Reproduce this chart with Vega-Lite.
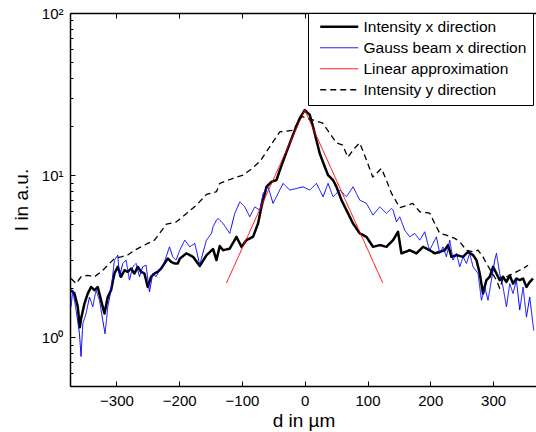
{
  "$schema": "https://vega.github.io/schema/vega-lite/v6.json",
  "width": 467,
  "height": 373,
  "autosize": {"type": "none"},
  "padding": {"left": 70, "top": 13, "right": 0, "bottom": 46},
  "background": "white",
  "config": {
    "view": {"stroke": null},
    "font": "Liberation Sans",
    "axis": {
      "grid": false,
      "domainColor": "black",
      "domainWidth": 1.5,
      "tickColor": "black",
      "tickWidth": 1,
      "labelColor": "black",
      "titleColor": "black",
      "labelFont": "Liberation Sans",
      "titleFont": "Liberation Sans",
      "labelFontSize": 15,
      "titleFontSize": 19,
      "titleFontWeight": "normal",
      "labelFlush": false,
      "labelOverlap": false
    }
  },
  "data": {
    "values": [
      {"s": "Intensity x direction", "d": -372.3, "I": 1.95},
      {"s": "Intensity x direction", "d": -366.9, "I": 1.86},
      {"s": "Intensity x direction", "d": -361.6, "I": 1.54},
      {"s": "Intensity x direction", "d": -358.4, "I": 1.15},
      {"s": "Intensity x direction", "d": -356.4, "I": 1.3},
      {"s": "Intensity x direction", "d": -351, "I": 1.61},
      {"s": "Intensity x direction", "d": -345.7, "I": 1.86},
      {"s": "Intensity x direction", "d": -340.4, "I": 2.04},
      {"s": "Intensity x direction", "d": -335, "I": 1.95},
      {"s": "Intensity x direction", "d": -329.8, "I": 2.04},
      {"s": "Intensity x direction", "d": -324.5, "I": 1.69},
      {"s": "Intensity x direction", "d": -319.1, "I": 1.4},
      {"s": "Intensity x direction", "d": -313.8, "I": 1.77},
      {"s": "Intensity x direction", "d": -308.6, "I": 1.95},
      {"s": "Intensity x direction", "d": -303.2, "I": 2.47},
      {"s": "Intensity x direction", "d": -297.9, "I": 2.72},
      {"s": "Intensity x direction", "d": -292.6, "I": 2.36},
      {"s": "Intensity x direction", "d": -287.2, "I": 2.59},
      {"s": "Intensity x direction", "d": -282, "I": 2.53},
      {"s": "Intensity x direction", "d": -276.7, "I": 2.65},
      {"s": "Intensity x direction", "d": -271.3, "I": 2.47},
      {"s": "Intensity x direction", "d": -266, "I": 2.72},
      {"s": "Intensity x direction", "d": -260.8, "I": 2.53},
      {"s": "Intensity x direction", "d": -255.4, "I": 2.47},
      {"s": "Intensity x direction", "d": -250.1, "I": 2.04},
      {"s": "Intensity x direction", "d": -244.8, "I": 2.36},
      {"s": "Intensity x direction", "d": -239.4, "I": 2.47},
      {"s": "Intensity x direction", "d": -234.2, "I": 2.53},
      {"s": "Intensity x direction", "d": -228.9, "I": 2.65},
      {"s": "Intensity x direction", "d": -223.5, "I": 2.85},
      {"s": "Intensity x direction", "d": -218.2, "I": 3.06},
      {"s": "Intensity x direction", "d": -213, "I": 2.92},
      {"s": "Intensity x direction", "d": -207.6, "I": 2.85},
      {"s": "Intensity x direction", "d": -202.3, "I": 2.85},
      {"s": "Intensity x direction", "d": -199.1, "I": 3.05},
      {"s": "Intensity x direction", "d": -188.5, "I": 3.29},
      {"s": "Intensity x direction", "d": -177.9, "I": 3.13},
      {"s": "Intensity x direction", "d": -167.3, "I": 2.75},
      {"s": "Intensity x direction", "d": -156.6, "I": 3.2},
      {"s": "Intensity x direction", "d": -146.1, "I": 3.5},
      {"s": "Intensity x direction", "d": -140.7, "I": 2.99},
      {"s": "Intensity x direction", "d": -135.4, "I": 3.65},
      {"s": "Intensity x direction", "d": -130.1, "I": 3.44},
      {"s": "Intensity x direction", "d": -119.5, "I": 3.52},
      {"s": "Intensity x direction", "d": -108.8, "I": 4.16},
      {"s": "Intensity x direction", "d": -100.8, "I": 3.61},
      {"s": "Intensity x direction", "d": -92.9, "I": 3.97},
      {"s": "Intensity x direction", "d": -82.4, "I": 4.16},
      {"s": "Intensity x direction", "d": -74.4, "I": 5.03},
      {"s": "Intensity x direction", "d": -69, "I": 6.37},
      {"s": "Intensity x direction", "d": -61, "I": 8.47},
      {"s": "Intensity x direction", "d": -53, "I": 9.09},
      {"s": "Intensity x direction", "d": -45.1, "I": 9.31},
      {"s": "Intensity x direction", "d": -39.8, "I": 10.7},
      {"s": "Intensity x direction", "d": -31.9, "I": 13.0},
      {"s": "Intensity x direction", "d": -23.9, "I": 15.7},
      {"s": "Intensity x direction", "d": -15.9, "I": 18.9},
      {"s": "Intensity x direction", "d": -8, "I": 22.4},
      {"s": "Intensity x direction", "d": 0, "I": 25.2},
      {"s": "Intensity x direction", "d": 8, "I": 23.5},
      {"s": "Intensity x direction", "d": 13.2, "I": 19.9},
      {"s": "Intensity x direction", "d": 18.6, "I": 16.4},
      {"s": "Intensity x direction", "d": 23.9, "I": 13.6},
      {"s": "Intensity x direction", "d": 31.9, "I": 11.25},
      {"s": "Intensity x direction", "d": 37.1, "I": 10.0},
      {"s": "Intensity x direction", "d": 45.1, "I": 9.31},
      {"s": "Intensity x direction", "d": 50.5, "I": 8.47},
      {"s": "Intensity x direction", "d": 58.5, "I": 7.01},
      {"s": "Intensity x direction", "d": 66.4, "I": 6.08},
      {"s": "Intensity x direction", "d": 76.9, "I": 5.03},
      {"s": "Intensity x direction", "d": 87.6, "I": 4.37},
      {"s": "Intensity x direction", "d": 98.3, "I": 4.16},
      {"s": "Intensity x direction", "d": 108.8, "I": 3.61},
      {"s": "Intensity x direction", "d": 119.5, "I": 3.70},
      {"s": "Intensity x direction", "d": 130.1, "I": 3.61},
      {"s": "Intensity x direction", "d": 140.7, "I": 3.97},
      {"s": "Intensity x direction", "d": 148.6, "I": 4.47},
      {"s": "Intensity x direction", "d": 154, "I": 3.29},
      {"s": "Intensity x direction", "d": 167.3, "I": 3.44},
      {"s": "Intensity x direction", "d": 177.9, "I": 3.29},
      {"s": "Intensity x direction", "d": 188.5, "I": 3.61},
      {"s": "Intensity x direction", "d": 199.1, "I": 3.44},
      {"s": "Intensity x direction", "d": 207.1, "I": 3.29},
      {"s": "Intensity x direction", "d": 215.1, "I": 3.36},
      {"s": "Intensity x direction", "d": 223, "I": 3.44},
      {"s": "Intensity x direction", "d": 228.3, "I": 3.70},
      {"s": "Intensity x direction", "d": 233.7, "I": 3.13},
      {"s": "Intensity x direction", "d": 241.7, "I": 3.21},
      {"s": "Intensity x direction", "d": 252.2, "I": 3.13},
      {"s": "Intensity x direction", "d": 260.1, "I": 3.36},
      {"s": "Intensity x direction", "d": 268.1, "I": 3.21},
      {"s": "Intensity x direction", "d": 273.5, "I": 2.99},
      {"s": "Intensity x direction", "d": 278.8, "I": 2.47},
      {"s": "Intensity x direction", "d": 284, "I": 1.86},
      {"s": "Intensity x direction", "d": 289.4, "I": 2.25},
      {"s": "Intensity x direction", "d": 294.7, "I": 2.36},
      {"s": "Intensity x direction", "d": 300, "I": 2.72},
      {"s": "Intensity x direction", "d": 305.4, "I": 2.47},
      {"s": "Intensity x direction", "d": 310.6, "I": 2.25},
      {"s": "Intensity x direction", "d": 315.9, "I": 2.36},
      {"s": "Intensity x direction", "d": 321.3, "I": 2.19},
      {"s": "Intensity x direction", "d": 326.6, "I": 2.41},
      {"s": "Intensity x direction", "d": 331.8, "I": 2.14},
      {"s": "Intensity x direction", "d": 337.2, "I": 2.30},
      {"s": "Intensity x direction", "d": 342.5, "I": 2.25},
      {"s": "Intensity x direction", "d": 347.8, "I": 2.30},
      {"s": "Intensity x direction", "d": 353.2, "I": 2.04},
      {"s": "Intensity x direction", "d": 358.4, "I": 2.19},
      {"s": "Intensity x direction", "d": 363.7, "I": 2.30},

      {"s": "Gauss beam x direction", "d": -372.3, "I": 1.54},
      {"s": "Gauss beam x direction", "d": -369.6, "I": 1.95},
      {"s": "Gauss beam x direction", "d": -364.3, "I": 1.47},
      {"s": "Gauss beam x direction", "d": -358.9, "I": 1.05},
      {"s": "Gauss beam x direction", "d": -356.4, "I": 0.76},
      {"s": "Gauss beam x direction", "d": -353.6, "I": 1.21},
      {"s": "Gauss beam x direction", "d": -348.4, "I": 1.40},
      {"s": "Gauss beam x direction", "d": -343, "I": 1.77},
      {"s": "Gauss beam x direction", "d": -337.7, "I": 1.54},
      {"s": "Gauss beam x direction", "d": -332.5, "I": 1.95},
      {"s": "Gauss beam x direction", "d": -327, "I": 1.69},
      {"s": "Gauss beam x direction", "d": -321.8, "I": 1.27},
      {"s": "Gauss beam x direction", "d": -318.1, "I": 1.05},
      {"s": "Gauss beam x direction", "d": -313.8, "I": 1.54},
      {"s": "Gauss beam x direction", "d": -308.6, "I": 1.95},
      {"s": "Gauss beam x direction", "d": -303.2, "I": 2.99},
      {"s": "Gauss beam x direction", "d": -297.9, "I": 3.21},
      {"s": "Gauss beam x direction", "d": -295.2, "I": 2.36},
      {"s": "Gauss beam x direction", "d": -289.9, "I": 2.85},
      {"s": "Gauss beam x direction", "d": -284.7, "I": 2.99},
      {"s": "Gauss beam x direction", "d": -279.3, "I": 2.25},
      {"s": "Gauss beam x direction", "d": -274, "I": 2.72},
      {"s": "Gauss beam x direction", "d": -268.7, "I": 2.85},
      {"s": "Gauss beam x direction", "d": -263.3, "I": 2.36},
      {"s": "Gauss beam x direction", "d": -258.1, "I": 2.72},
      {"s": "Gauss beam x direction", "d": -252.8, "I": 2.78},
      {"s": "Gauss beam x direction", "d": -247.4, "I": 1.90},
      {"s": "Gauss beam x direction", "d": -242.1, "I": 2.47},
      {"s": "Gauss beam x direction", "d": -236.9, "I": 2.36},
      {"s": "Gauss beam x direction", "d": -231.5, "I": 2.59},
      {"s": "Gauss beam x direction", "d": -226.2, "I": 2.72},
      {"s": "Gauss beam x direction", "d": -220.9, "I": 3.13},
      {"s": "Gauss beam x direction", "d": -215.5, "I": 3.61},
      {"s": "Gauss beam x direction", "d": -210.3, "I": 3.13},
      {"s": "Gauss beam x direction", "d": -205, "I": 2.99},
      {"s": "Gauss beam x direction", "d": -199.1, "I": 3.44},
      {"s": "Gauss beam x direction", "d": -191.2, "I": 3.97},
      {"s": "Gauss beam x direction", "d": -183.2, "I": 3.61},
      {"s": "Gauss beam x direction", "d": -175.2, "I": 3.79},
      {"s": "Gauss beam x direction", "d": -167.3, "I": 2.8},
      {"s": "Gauss beam x direction", "d": -156.6, "I": 3.97},
      {"s": "Gauss beam x direction", "d": -148.6, "I": 4.37},
      {"s": "Gauss beam x direction", "d": -146.1, "I": 4.80},
      {"s": "Gauss beam x direction", "d": -140.7, "I": 5.27},
      {"s": "Gauss beam x direction", "d": -138.1, "I": 5.4},
      {"s": "Gauss beam x direction", "d": -130.1, "I": 5.03},
      {"s": "Gauss beam x direction", "d": -119.5, "I": 4.37},
      {"s": "Gauss beam x direction", "d": -111.5, "I": 5.80},
      {"s": "Gauss beam x direction", "d": -103.5, "I": 6.84},
      {"s": "Gauss beam x direction", "d": -95.6, "I": 6.37},
      {"s": "Gauss beam x direction", "d": -87.6, "I": 5.53},
      {"s": "Gauss beam x direction", "d": -79.7, "I": 6.37},
      {"s": "Gauss beam x direction", "d": -71.7, "I": 6.08},
      {"s": "Gauss beam x direction", "d": -66.4, "I": 7.71},
      {"s": "Gauss beam x direction", "d": -58.5, "I": 8.47},
      {"s": "Gauss beam x direction", "d": -50.5, "I": 6.69},
      {"s": "Gauss beam x direction", "d": -42.5, "I": 7.71},
      {"s": "Gauss beam x direction", "d": -34.6, "I": 8.89},
      {"s": "Gauss beam x direction", "d": -23.9, "I": 8.08},
      {"s": "Gauss beam x direction", "d": -13.2, "I": 8.27},
      {"s": "Gauss beam x direction", "d": -2.7, "I": 8.47},
      {"s": "Gauss beam x direction", "d": 8, "I": 8.08},
      {"s": "Gauss beam x direction", "d": 18.6, "I": 8.89},
      {"s": "Gauss beam x direction", "d": 29.2, "I": 7.35},
      {"s": "Gauss beam x direction", "d": 37.1, "I": 8.89},
      {"s": "Gauss beam x direction", "d": 45.1, "I": 7.35},
      {"s": "Gauss beam x direction", "d": 55.8, "I": 8.08},
      {"s": "Gauss beam x direction", "d": 66.4, "I": 7.35},
      {"s": "Gauss beam x direction", "d": 76.9, "I": 8.47},
      {"s": "Gauss beam x direction", "d": 87.6, "I": 7.01},
      {"s": "Gauss beam x direction", "d": 98.3, "I": 6.69},
      {"s": "Gauss beam x direction", "d": 108.8, "I": 5.66},
      {"s": "Gauss beam x direction", "d": 119.5, "I": 6.37},
      {"s": "Gauss beam x direction", "d": 130.1, "I": 5.80},
      {"s": "Gauss beam x direction", "d": 138.1, "I": 6.23},
      {"s": "Gauss beam x direction", "d": 140.7, "I": 6.08},
      {"s": "Gauss beam x direction", "d": 146.1, "I": 5.15},
      {"s": "Gauss beam x direction", "d": 151.3, "I": 5.53},
      {"s": "Gauss beam x direction", "d": 159.3, "I": 4.57},
      {"s": "Gauss beam x direction", "d": 167.3, "I": 4.16},
      {"s": "Gauss beam x direction", "d": 175.2, "I": 4.37},
      {"s": "Gauss beam x direction", "d": 183.2, "I": 3.97},
      {"s": "Gauss beam x direction", "d": 191.2, "I": 4.47},
      {"s": "Gauss beam x direction", "d": 196.4, "I": 3.70},
      {"s": "Gauss beam x direction", "d": 199.1, "I": 3.44},
      {"s": "Gauss beam x direction", "d": 204.4, "I": 3.79},
      {"s": "Gauss beam x direction", "d": 209.8, "I": 4.16},
      {"s": "Gauss beam x direction", "d": 215.1, "I": 3.29},
      {"s": "Gauss beam x direction", "d": 220.3, "I": 3.61},
      {"s": "Gauss beam x direction", "d": 225.7, "I": 3.13},
      {"s": "Gauss beam x direction", "d": 231, "I": 3.97},
      {"s": "Gauss beam x direction", "d": 236.2, "I": 2.99},
      {"s": "Gauss beam x direction", "d": 241.7, "I": 3.29},
      {"s": "Gauss beam x direction", "d": 246.9, "I": 2.72},
      {"s": "Gauss beam x direction", "d": 252.2, "I": 3.13},
      {"s": "Gauss beam x direction", "d": 257.6, "I": 2.85},
      {"s": "Gauss beam x direction", "d": 262.8, "I": 3.29},
      {"s": "Gauss beam x direction", "d": 268.1, "I": 2.72},
      {"s": "Gauss beam x direction", "d": 276.1, "I": 2.47},
      {"s": "Gauss beam x direction", "d": 281.5, "I": 1.69},
      {"s": "Gauss beam x direction", "d": 286.7, "I": 2.04},
      {"s": "Gauss beam x direction", "d": 292, "I": 1.69},
      {"s": "Gauss beam x direction", "d": 297.4, "I": 2.25},
      {"s": "Gauss beam x direction", "d": 302.7, "I": 2.99},
      {"s": "Gauss beam x direction", "d": 305.4, "I": 3.29},
      {"s": "Gauss beam x direction", "d": 310.6, "I": 2.47},
      {"s": "Gauss beam x direction", "d": 315.9, "I": 2.04},
      {"s": "Gauss beam x direction", "d": 321.3, "I": 1.54},
      {"s": "Gauss beam x direction", "d": 326.6, "I": 2.14},
      {"s": "Gauss beam x direction", "d": 331.8, "I": 1.86},
      {"s": "Gauss beam x direction", "d": 337.2, "I": 2.25},
      {"s": "Gauss beam x direction", "d": 342.5, "I": 1.47},
      {"s": "Gauss beam x direction", "d": 347.8, "I": 2.04},
      {"s": "Gauss beam x direction", "d": 353.2, "I": 1.33},
      {"s": "Gauss beam x direction", "d": 358.4, "I": 1.77},
      {"s": "Gauss beam x direction", "d": 364.8, "I": 1.10},

      {"s": "Linear approximation", "d": -124.7, "I": 2.16},
      {"s": "Linear approximation", "d": 0, "I": 25.2},
      {"s": "Linear approximation", "d": 124.3, "I": 2.16},

      {"s": "Intensity y direction", "d": -372.3, "I": 2.30},
      {"s": "Intensity y direction", "d": -364.3, "I": 2.14},
      {"s": "Intensity y direction", "d": -356.4, "I": 2.36},
      {"s": "Intensity y direction", "d": -345.7, "I": 2.41},
      {"s": "Intensity y direction", "d": -335, "I": 2.36},
      {"s": "Intensity y direction", "d": -324.5, "I": 2.53},
      {"s": "Intensity y direction", "d": -313.8, "I": 2.78},
      {"s": "Intensity y direction", "d": -303.2, "I": 3.06},
      {"s": "Intensity y direction", "d": -292.6, "I": 3.13},
      {"s": "Intensity y direction", "d": -282, "I": 3.21},
      {"s": "Intensity y direction", "d": -271.3, "I": 3.44},
      {"s": "Intensity y direction", "d": -260.8, "I": 3.61},
      {"s": "Intensity y direction", "d": -250.1, "I": 3.79},
      {"s": "Intensity y direction", "d": -239.4, "I": 3.97},
      {"s": "Intensity y direction", "d": -220.3, "I": 4.98},
      {"s": "Intensity y direction", "d": -204.4, "I": 5.15},
      {"s": "Intensity y direction", "d": -188.5, "I": 5.80},
      {"s": "Intensity y direction", "d": -172.5, "I": 6.53},
      {"s": "Intensity y direction", "d": -156.6, "I": 7.6},
      {"s": "Intensity y direction", "d": -140.7, "I": 7.9},
      {"s": "Intensity y direction", "d": -135.4, "I": 8.9},
      {"s": "Intensity y direction", "d": -114.2, "I": 9.55},
      {"s": "Intensity y direction", "d": -98.3, "I": 10.0},
      {"s": "Intensity y direction", "d": -87.6, "I": 10.7},
      {"s": "Intensity y direction", "d": -71.7, "I": 12.1},
      {"s": "Intensity y direction", "d": -55.8, "I": 14.95},
      {"s": "Intensity y direction", "d": -39.8, "I": 18.5},
      {"s": "Intensity y direction", "d": -18.6, "I": 18.9},
      {"s": "Intensity y direction", "d": -5, "I": 23},
      {"s": "Intensity y direction", "d": 12.7, "I": 21.9},
      {"s": "Intensity y direction", "d": 28.7, "I": 20.9},
      {"s": "Intensity y direction", "d": 50.5, "I": 15.8},
      {"s": "Intensity y direction", "d": 60.5, "I": 15.3},
      {"s": "Intensity y direction", "d": 68.5, "I": 12.9},
      {"s": "Intensity y direction", "d": 79.7, "I": 14.7},
      {"s": "Intensity y direction", "d": 87.6, "I": 15.8},
      {"s": "Intensity y direction", "d": 98.3, "I": 12.4},
      {"s": "Intensity y direction", "d": 108.3, "I": 9.72},
      {"s": "Intensity y direction", "d": 122.2, "I": 11.0},
      {"s": "Intensity y direction", "d": 130.1, "I": 9.31},
      {"s": "Intensity y direction", "d": 138.1, "I": 7.74},
      {"s": "Intensity y direction", "d": 151.3, "I": 6.3},
      {"s": "Intensity y direction", "d": 164.1, "I": 6.53},
      {"s": "Intensity y direction", "d": 172, "I": 6.69},
      {"s": "Intensity y direction", "d": 183.2, "I": 5.94},
      {"s": "Intensity y direction", "d": 199.1, "I": 5.83},
      {"s": "Intensity y direction", "d": 207.1, "I": 5.03},
      {"s": "Intensity y direction", "d": 215.1, "I": 4.37},
      {"s": "Intensity y direction", "d": 225.7, "I": 4.26},
      {"s": "Intensity y direction", "d": 239, "I": 4.07},
      {"s": "Intensity y direction", "d": 246.9, "I": 3.88},
      {"s": "Intensity y direction", "d": 257.6, "I": 3.44},
      {"s": "Intensity y direction", "d": 268.1, "I": 3.36},
      {"s": "Intensity y direction", "d": 276.1, "I": 3.44},
      {"s": "Intensity y direction", "d": 284, "I": 3.13},
      {"s": "Intensity y direction", "d": 289.4, "I": 2.85},
      {"s": "Intensity y direction", "d": 297.4, "I": 2.53},
      {"s": "Intensity y direction", "d": 305.4, "I": 2.25},
      {"s": "Intensity y direction", "d": 310.6, "I": 2.0},
      {"s": "Intensity y direction", "d": 315.9, "I": 2.30},
      {"s": "Intensity y direction", "d": 326.6, "I": 2.41},
      {"s": "Intensity y direction", "d": 337.2, "I": 2.53},
      {"s": "Intensity y direction", "d": 347.8, "I": 2.65},
      {"s": "Intensity y direction", "d": 355.7, "I": 2.78}
    ]
  },
  "layer": [
    {
      "mark": {"type": "line", "clip": true, "strokeJoin": "round"},
      "encoding": {
        "x": {
          "field": "d", "type": "quantitative",
          "scale": {"domain": [-374, 370], "nice": false, "zero": false},
          "axis": {
            "orient": "bottom",
            "values": [-300, -200, -100, 0, 100, 200, 300],
            "labelExpr": "replace(format(datum.value, 'd'), '-', '−')",
            "tickSize": -5,
            "labelPadding": 12,
            "title": "d in µm",
            "titlePadding": 3
          }
        },
        "y": {
          "field": "I", "type": "quantitative",
          "scale": {"type": "log", "domain": [0.5, 100], "nice": false},
          "axis": {
            "orient": "left",
            "values": [1, 10, 100],
            "labelExpr": "datum.value == 1 ? '10⁰' : datum.value == 10 ? '10¹' : '10²'",
            "tickSize": -5,
            "labelPadding": 12,
            "title": "I in a.u.",
            "titlePadding": 10
          }
        },
        "color": {
          "field": "s", "type": "nominal",
          "scale": {
            "domain": ["Intensity x direction", "Gauss beam x direction", "Linear approximation", "Intensity y direction"],
            "range": ["#000000", "#0000ff", "#ff0000", "#000000"]
          },
          "legend": {
            "title": null, "orient": "none", "legendX": 238, "legendY": 0,
            "fillColor": "white", "strokeColor": "black", "padding": 6,
            "symbolType": "M-0.3,0H7.3", "symbolSize": 100, "labelOffset": 34,
            "labelFontSize": 15.5, "labelFont": "Liberation Sans", "labelColor": "black",
            "labelLimit": 0, "rowPadding": 4
          }
        },
        "strokeDash": {
          "field": "s", "type": "nominal",
          "scale": {
            "domain": ["Intensity x direction", "Gauss beam x direction", "Linear approximation", "Intensity y direction"],
            "range": [[1, 0], [1, 0], [1, 0], [6, 4]]
          },
          "legend": {
            "title": null, "orient": "none", "legendX": 238, "legendY": 0,
            "fillColor": "white", "strokeColor": "black", "padding": 6,
            "symbolType": "M-0.3,0H7.3", "symbolSize": 100, "labelOffset": 34,
            "labelFontSize": 15.5, "labelFont": "Liberation Sans", "labelColor": "black",
            "labelLimit": 0, "rowPadding": 4
          }
        },
        "strokeWidth": {
          "field": "s", "type": "nominal",
          "scale": {
            "type": "ordinal",
            "domain": ["Intensity x direction", "Gauss beam x direction", "Linear approximation", "Intensity y direction"],
            "range": [2.5, 1, 1, 1.3]
          },
          "legend": {
            "title": null, "orient": "none", "legendX": 238, "legendY": 0,
            "fillColor": "white", "strokeColor": "black", "padding": 6,
            "symbolType": "M-0.3,0H7.3", "symbolSize": 100, "labelOffset": 34,
            "labelFontSize": 15.5, "labelFont": "Liberation Sans", "labelColor": "black",
            "labelLimit": 0, "rowPadding": 4
          }
        }
      }
    },
    {
      "mark": {"type": "point", "opacity": 0},
      "encoding": {
        "x": {
          "field": "d", "type": "quantitative",
          "axis": {
            "orient": "top",
            "values": [-300, -200, -100, 0, 100, 200, 300],
            "labels": false,
            "tickSize": -5,
            "title": null
          }
        },
        "y": {
          "field": "I", "type": "quantitative",
          "axis": {
            "orient": "left",
            "values": [0.5, 0.6, 0.7, 0.8, 0.9, 2, 3, 4, 5, 6, 7, 8, 9, 20, 30, 40, 50, 60, 70, 80, 90],
            "labels": false,
            "domain": false,
            "tickSize": -3,
            "title": null
          }
        }
      }
    }
  ],
  "resolve": {"axis": {"x": "independent", "y": "independent"}}
}
